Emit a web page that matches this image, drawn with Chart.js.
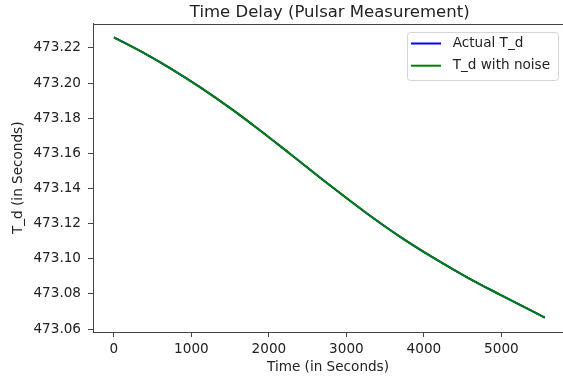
<!DOCTYPE html>
<html>
<head>
<meta charset="utf-8">
<script src="https://cdn.jsdelivr.net/npm/chart.js@4"></script>
<style>
  html, body { margin: 0; padding: 0; background: #fff; overflow: hidden; }
</style>
</head>
<body>
<canvas id="td-chart" width="563" height="381"></canvas>
<script>
"use strict";

// values
const timeSec = [0, 378, 723, 1110, 1497, 1841, 2271, 2787, 3261, 3690, 4120, 4551, 4981, 5561];
const actualTd = [473.2260, 473.2173, 473.2085, 473.1977, 473.1859, 473.1746, 473.1598,
  473.1418, 473.1259, 473.1126, 473.1006, 473.0896, 473.0796, 473.0665];
// noise is too small to see at this scale
const noisyTd = [473.2260, 473.2173, 473.2085, 473.1977, 473.1859, 473.1746, 473.1598,
  473.1418, 473.1259, 473.1126, 473.1006, 473.0896, 473.0796, 473.0665];
const xTicks = [0, 1000, 2000, 3000, 4000, 5000];
const yTicks = [473.06, 473.08, 473.10, 473.12, 473.14, 473.16, 473.18, 473.20, 473.22];

const FONT = "'DejaVu Sans', sans-serif";
const INK = "#222";
const SPINE = "#444";

const toPoints = (ys) => timeSec.map((t, i) => ({ x: t, y: ys[i] }));

// title, top spine and legend box, placed like matplotlib does
const frame = {
  id: "frame",
  afterDraw(chart) {
    const { ctx, chartArea: a } = chart;
    ctx.save();
    ctx.strokeStyle = SPINE;
    ctx.lineWidth = 1;
    ctx.beginPath();
    ctx.moveTo(a.left, Math.round(a.top) + 0.5);
    ctx.lineTo(a.right, Math.round(a.top) + 0.5);
    ctx.stroke();

    ctx.fillStyle = INK;
    ctx.font = `16.5px ${FONT}`;
    ctx.textAlign = "center";
    ctx.textBaseline = "alphabetic";
    ctx.fillText("Time Delay (Pulsar Measurement)", 329.7, 17.3);

    // legend
    ctx.beginPath();
    ctx.roundRect(407.5, 32.5, 151, 48, 3);
    ctx.fillStyle = "rgba(255,255,255,0.8)";
    ctx.fill();
    ctx.strokeStyle = "#d5d5d5";
    ctx.stroke();
    ctx.font = `13.6px ${FONT}`;
    ctx.textAlign = "left";
    ctx.textBaseline = "middle";
    chart.data.datasets.forEach((ds, i) => {
      const y = 43.5 + i * 22.2;
      ctx.strokeStyle = ds.borderColor;
      ctx.lineWidth = 2;
      ctx.beginPath();
      ctx.moveTo(411, y);
      ctx.lineTo(441, y);
      ctx.stroke();
      ctx.fillStyle = INK;
      ctx.fillText(ds.label, 452.7, y);
    });
    ctx.restore();
  },
};

new Chart(document.getElementById("td-chart"), {
  type: "line",
  data: {
    datasets: [
      {
        label: "Actual T_d",
        data: toPoints(actualTd),
        borderColor: "#0000ff",
        borderWidth: 2,
        order: 1,
      },
      {
        label: "T_d with noise",
        data: toPoints(noisyTd),
        borderColor: "#008000",
        borderWidth: 2,
        order: 0,
      },
    ],
  },
  options: {
    responsive: false,
    animation: false,
    devicePixelRatio: 1,
    layout: { padding: { top: 23.5, right: 0, bottom: 0, left: 0 } },
    elements: {
      point: { radius: 0 },
      line: { cubicInterpolationMode: "monotone", fill: false },
    },
    plugins: {
      legend: { display: false },
      tooltip: { enabled: false },
      title: { display: false },
    },
    scales: {
      x: {
        type: "linear",
        min: -270,
        max: 5795,
        afterBuildTicks: (s) => { s.ticks = xTicks.map((v) => ({ value: v })); },
        afterFit: (s) => { s.height = 49; },
        border: { display: true, color: SPINE, width: 1 },
        grid: { drawOnChartArea: false, drawTicks: true, tickLength: 5, color: SPINE },
        ticks: {
          color: INK,
          padding: 4,
          maxRotation: 0,
          font: { family: FONT, size: 13.6 },
          callback: (v) => String(v),
        },
        title: {
          display: true,
          text: "Time (in Seconds)",
          color: INK,
          font: { family: FONT, size: 13.6 },
          padding: { top: 0, bottom: 5 },
        },
      },
      y: {
        type: "linear",
        min: 473.0583,
        max: 473.2339,
        afterBuildTicks: (s) => { s.ticks = yTicks.map((v) => ({ value: v })); },
        afterFit: (s) => { s.width = 93; },
        border: { display: true, color: SPINE, width: 1 },
        grid: { drawOnChartArea: false, drawTicks: true, tickLength: 5, color: SPINE },
        ticks: {
          color: INK,
          padding: 7,
          font: { family: FONT, size: 13.6 },
          callback: (v) => v.toFixed(2),
        },
        title: {
          display: true,
          text: "T_d (in Seconds)",
          color: INK,
          font: { family: FONT, size: 13.6 },
          padding: { top: 10, bottom: 0 },
        },
      },
    },
  },
  plugins: [frame],
});
</script>
</body>
</html>
